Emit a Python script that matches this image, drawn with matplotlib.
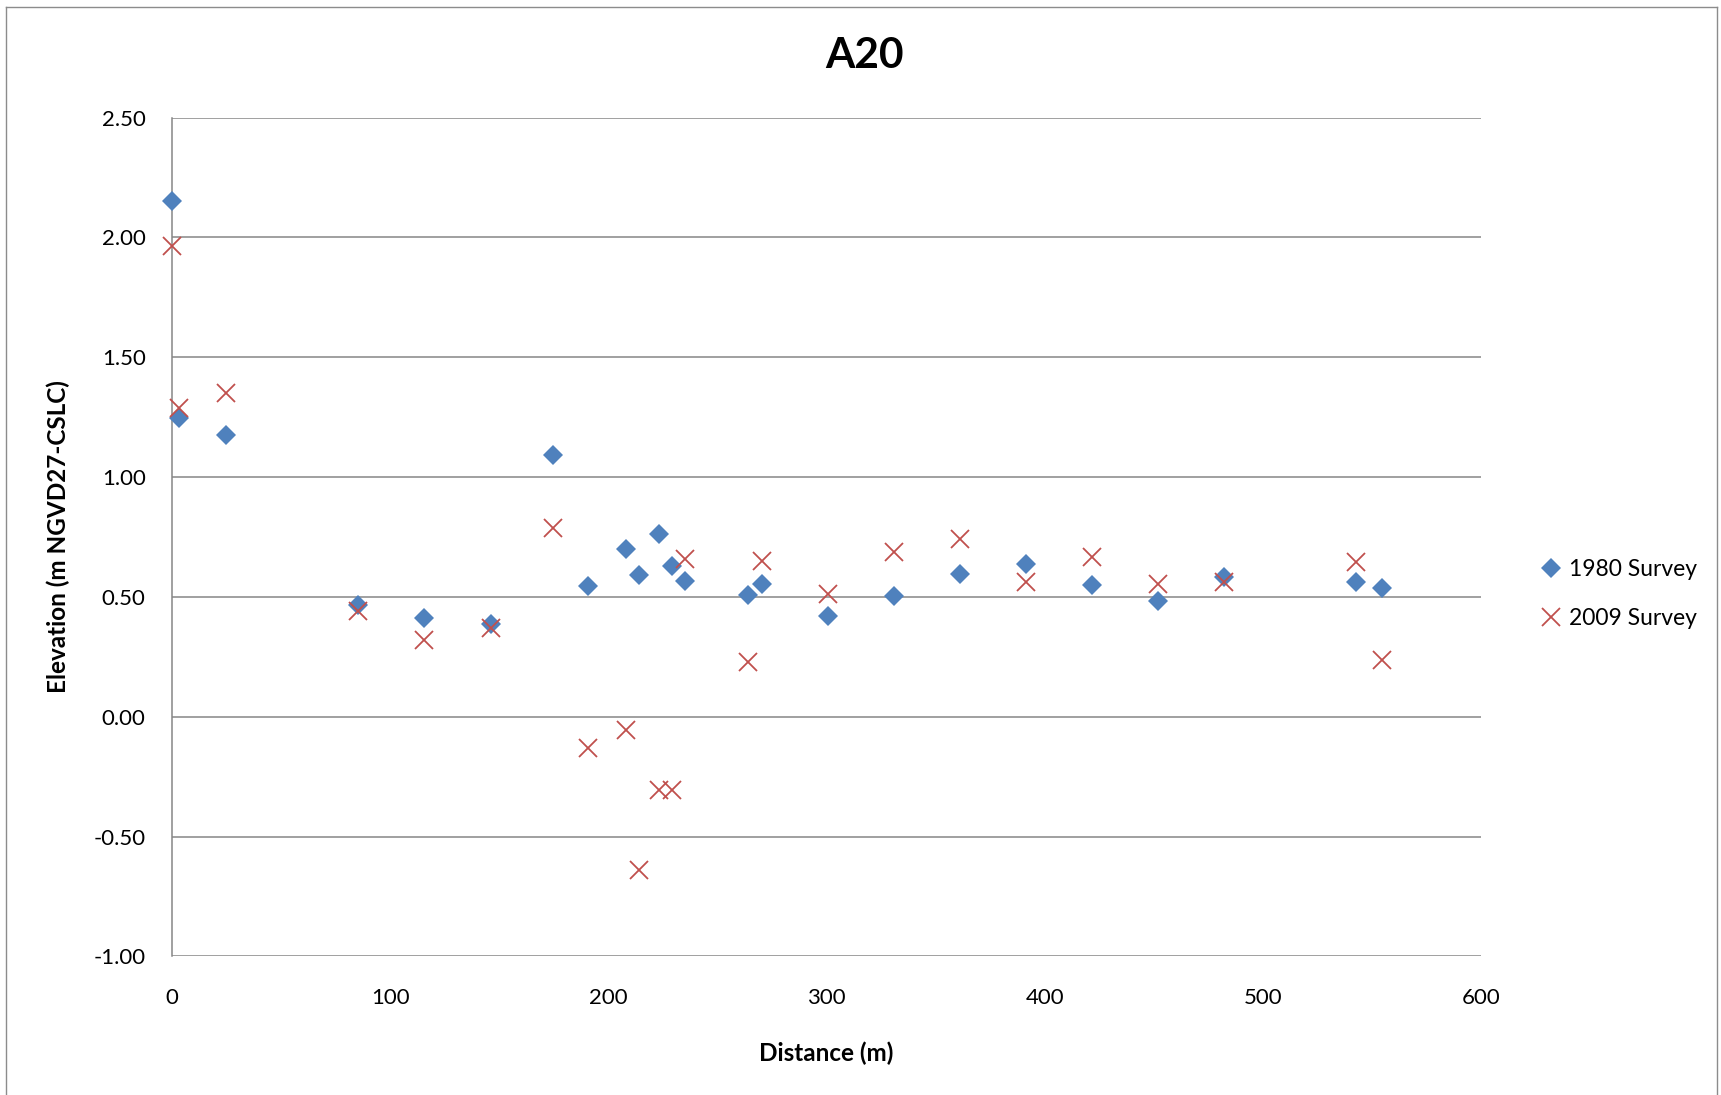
import matplotlib
matplotlib.use("Agg")
import matplotlib.pyplot as plt
from matplotlib.lines import Line2D

plt.rcParams['font.family'] = ['Lato', 'DejaVu Sans']

# Data
distance = [0, 3.4, 24.6, 85.4, 115.7, 146.1, 174.8, 190.8, 208.0, 214.2, 223.4, 229.2,
            235.1, 264.0, 270.4, 300.5, 330.9, 361.2, 391.6, 421.8, 451.9, 482.2, 542.7, 554.6]
survey_1980 = [2.15, 1.245, 1.175, 0.465, 0.411, 0.385, 1.09, 0.546, 0.699, 0.593, 0.764, 0.628,
               0.566, 0.509, 0.552, 0.420, 0.502, 0.595, 0.637, 0.550, 0.484, 0.583, 0.563, 0.537]
survey_2009 = [1.965, 1.29, 1.35, 0.443, 0.319, 0.370, 0.787, -0.13, -0.054, -0.639, -0.307, -0.307,
               0.658, 0.227, 0.649, 0.514, 0.688, 0.741, 0.561, 0.668, 0.553, 0.563, 0.644, 0.237]
series_labels = ["1980 Survey", "2009 Survey"]
x_ticks = [0, 100, 200, 300, 400, 500, 600]
y_ticks = [-1.0, -0.5, 0.0, 0.5, 1.0, 1.5, 2.0, 2.5]
title = "A20"
x_label = "Distance (m)"
y_label = "Elevation (m NGVD27-CSLC)"

W, H = 1721, 1095
fig = plt.figure(figsize=(W / 100, H / 100), dpi=100)
fig.patch.set_facecolor("white")

# chart border (left, top, right)
border_c = "#8c8c8c"
fig.add_artist(Line2D([5.5 / W, 5.5 / W], [0, 1 - 6.5 / H], transform=fig.transFigure, color=border_c, lw=1.0))
fig.add_artist(Line2D([5.5 / W, 1717 / W], [1 - 6.5 / H, 1 - 6.5 / H], transform=fig.transFigure, color=border_c, lw=1.0))
fig.add_artist(Line2D([1717 / W, 1717 / W], [1 - 6.5 / H, 0], transform=fig.transFigure, color=border_c, lw=1.0))

left, right, top, bottom = 172, 1481, 117.5, 956.4
ax = fig.add_axes([left / W, 1 - bottom / H, (right - left) / W, (bottom - top) / H])

blue = "#4F81BD"
red = "#C0504D"
grid_c = "#868686"

ax.plot(distance, survey_1980, linestyle="none", marker="D", markersize=10.0,
        color=blue, markeredgewidth=0, label=series_labels[0], clip_on=False, zorder=3)
ax.plot(distance, survey_2009, linestyle="none", marker="x", markersize=13.5,
        color=red, markeredgewidth=1.3, label=series_labels[1], clip_on=False, zorder=4)

ax.set_xlim(0, 600)
ax.set_ylim(-1.0, 2.5)
ax.set_xticks(x_ticks)
ax.set_yticks(y_ticks)
ax.set_xticklabels([str(v) for v in x_ticks])
ax.set_yticklabels([f"{v:.2f}" for v in y_ticks])
ax.tick_params(axis="both", length=0, labelsize=16, colors="black")
ax.tick_params(axis="y", pad=19)
ax.tick_params(axis="x", pad=23)

ax.grid(axis="y", color=grid_c, linewidth=1.1, zorder=0)
ax.set_axisbelow(True)
for s in ["top", "right", "bottom"]:
    ax.spines[s].set_visible(False)
ax.spines["left"].set_color(grid_c)
ax.spines["left"].set_linewidth(1.1)

ax.set_xlabel(x_label, fontsize=17.5, fontweight="bold", labelpad=24)
ax.set_ylabel(y_label, fontsize=17.5, fontweight="bold", labelpad=17)

fig.text(864 / W, 1 - 56.5 / H, title, fontsize=30.5, fontweight="bold", ha="center", va="center")

leg = ax.legend(loc="center left", bbox_to_anchor=(1540 / W, 1 - 594 / H), bbox_transform=fig.transFigure,
                frameon=False, fontsize=16.5, handlelength=1.0, handletextpad=0.25,
                labelspacing=1.2, borderpad=0, borderaxespad=0)

fig.savefig("out.png", dpi=100, facecolor="white")
